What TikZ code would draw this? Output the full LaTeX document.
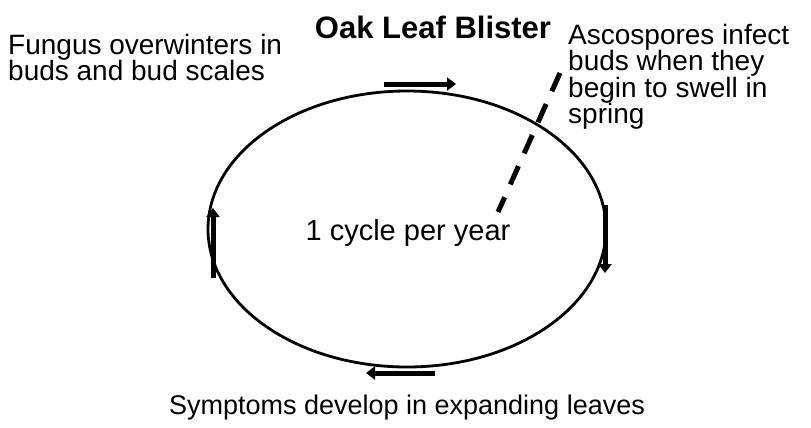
\documentclass[tikz,border=0pt]{standalone}
\usepackage{fontspec}
\setmainfont{Liberation Sans}
\usetikzlibrary{arrows.meta,shapes.geometric}
\begin{document}
\begin{tikzpicture}[x=1pt,y=-1pt,
  lbl/.style={inner sep=0pt,font=\fontsize{28}{26.5}\selectfont},
  cyclearrow/.style={line width=5pt,-{Triangle[length=9pt,width=13pt]}},
  ring/.style={line width=2.8pt}]
\useasboundingbox (0,0) rectangle (811,428);
\node[inner sep=0pt,font=\bfseries\fontsize{31}{33}\selectfont] (title) at (433,27) {Oak Leaf Blister};
\node[ring,draw,ellipse,minimum width=398pt,minimum height=276pt,inner sep=0pt] (cyc) at (407,229) {};
\node[lbl,font=\fontsize{29}{30}\selectfont] (center) at (408,233) {1 cycle per year};
\node[lbl,align=left,anchor=north west] (left) at (8,34) {Fungus overwinters in\\buds and bud scales};
\node[lbl,align=left,anchor=north west] (right) at (568,24) {Ascospores infect\\buds when they\\begin to swell in\\spring};
\node[lbl,font=\fontsize{27}{28}\selectfont] (bottom) at (407,408) {Symptoms develop in expanding leaves};
\coordinate (t1) at (384,84); \coordinate (t2) at (456,84);
\coordinate (r1) at (605,205); \coordinate (r2) at (605,273);
\coordinate (l1) at (213,278); \coordinate (l2) at (213,208);
\coordinate (b1) at (435,373); \coordinate (b2) at (366,373);
\draw[cyclearrow] (t1) -- (t2);
\draw[cyclearrow] (r1) -- (r2);
\draw[cyclearrow] (l1) -- (l2);
\draw[cyclearrow] (b1) -- (b2);
\coordinate (d1) at (560,73); \coordinate (d2) at (498,212);
\draw[line width=5pt,dash pattern=on 20pt off 14pt] (d1) -- (d2);
\end{tikzpicture}
\end{document}
